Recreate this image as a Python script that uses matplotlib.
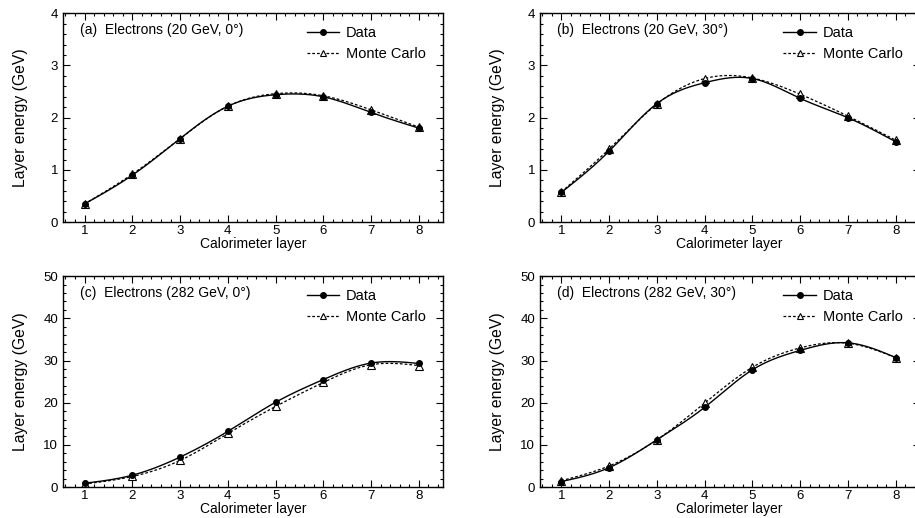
#!/usr/bin/env python3
"""
Layer energy profiles: data vs Monte Carlo for 20 and 282 GeV electrons.
Generates out.png
"""
import matplotlib
matplotlib.use("Agg")
import matplotlib.pyplot as plt
from matplotlib.ticker import MultipleLocator, AutoMinorLocator
import numpy as np

layers = [1, 2, 3, 4, 5, 6, 7, 8]

data_a = [0.35, 0.90, 1.60, 2.22, 2.44, 2.40, 2.10, 1.80]
mc_a = [0.35, 0.92, 1.60, 2.22, 2.46, 2.42, 2.15, 1.82]

data_b = [0.57, 1.36, 2.27, 2.67, 2.75, 2.37, 2.00, 1.54]
mc_b = [0.58, 1.40, 2.26, 2.75, 2.76, 2.45, 2.03, 1.57]

data_c = [0.9, 2.8, 7.1, 13.2, 20.1, 25.5, 29.4, 29.3]
mc_c = [0.7, 2.5, 6.3, 12.7, 19.1, 24.8, 29.0, 28.8]

data_d = [1.3, 4.6, 11.2, 18.9, 27.8, 32.4, 34.2, 30.7]
mc_d = [1.5, 5.0, 11.2, 19.9, 28.4, 33.0, 34.1, 30.7]

titles = [
    "(a)  Electrons (20 GeV, 0°)",
    "(b)  Electrons (20 GeV, 30°)",
    "(c)  Electrons (282 GeV, 0°)",
    "(d)  Electrons (282 GeV, 30°)",
]

plt.rcParams["font.family"] = ["Liberation Sans", "DejaVu Sans"]
plt.rcParams["font.size"] = 10


def smooth(x, y, n=200):
    """Natural cubic spline through the points, only for drawing the curve."""
    x = np.asarray(x, float)
    y = np.asarray(y, float)
    k = len(x)
    h = np.diff(x)
    A = np.zeros((k, k))
    r = np.zeros(k)
    A[0, 0] = A[-1, -1] = 1.0
    for i in range(1, k - 1):
        A[i, i - 1] = h[i - 1]
        A[i, i] = 2 * (h[i - 1] + h[i])
        A[i, i + 1] = h[i]
        r[i] = 6 * ((y[i + 1] - y[i]) / h[i] - (y[i] - y[i - 1]) / h[i - 1])
    m = np.linalg.solve(A, r)
    xs = np.linspace(x[0], x[-1], n)
    idx = np.clip(np.searchsorted(x, xs) - 1, 0, k - 2)
    x0, x1 = x[idx], x[idx + 1]
    hh = x1 - x0
    t0, t1 = x1 - xs, xs - x0
    ys = (m[idx] * t0**3 + m[idx + 1] * t1**3) / (6 * hh) \
        + (y[idx] / hh - m[idx] * hh / 6) * t0 \
        + (y[idx + 1] / hh - m[idx + 1] * hh / 6) * t1
    return xs, ys


MC_DASH = (0, (2.2, 1.6))


def draw_panel(ax, data, mc, title, ymax, ystep):
    xs, ys = smooth(layers, mc)
    ax.plot(xs, ys, color="black", lw=0.9, ls=MC_DASH)
    xs, ys = smooth(layers, data)
    ax.plot(xs, ys, color="black", lw=1.0, ls="-")
    ax.plot(layers, mc, ls="none", marker="^", ms=5.5, mfc="white",
            mec="black", mew=0.8)
    ax.plot(layers, data, ls="none", marker="o", ms=4, color="black")

    # legend proxies
    ax.plot([], [], color="black", lw=1.0, marker="o", ms=4, label="Data")
    ax.plot([], [], color="black", lw=0.9, ls=MC_DASH, marker="^",
            ms=5, mfc="white", mec="black", mew=0.8, label="Monte Carlo")
    handles, labels = ax.get_legend_handles_labels()
    ax.legend(handles, labels, loc="upper left", bbox_to_anchor=(0.607, 1.0),
              frameon=False, handlelength=2.2, handletextpad=0.5,
              labelspacing=0.45, fontsize=10.5)

    ax.text(0.045, 0.92, title, transform=ax.transAxes, ha="left",
            va="center", fontsize=10)

    ax.set_xlim(0.55, 8.5)
    ax.set_ylim(0, ymax)
    ax.xaxis.set_major_locator(MultipleLocator(1))
    ax.xaxis.set_minor_locator(AutoMinorLocator(5))
    ax.yaxis.set_major_locator(MultipleLocator(ystep))
    ax.yaxis.set_minor_locator(AutoMinorLocator(5))
    ax.tick_params(which="both", direction="in", top=True, right=True,
                   labelsize=9.5, width=0.8)
    ax.tick_params(which="major", length=5)
    ax.tick_params(which="minor", length=2.5)
    ax.tick_params(axis="x", pad=2)
    for s in ax.spines.values():
        s.set_linewidth(1.0)
    ax.set_xlabel("Calorimeter layer", fontsize=10, labelpad=0)
    ax.set_ylabel("Layer energy (GeV)", fontsize=11.3)
    ax.yaxis.set_label_coords(-0.092, 0.5)


fig = plt.figure(figsize=(9.15, 5.18), dpi=100)
w, h_top, h_bot = 0.415, 0.4035, 0.407
ax_a = fig.add_axes([0.0689, 0.571, w, h_top])
ax_b = fig.add_axes([0.590, 0.571, w, h_top])
ax_c = fig.add_axes([0.0689, 0.0598, w, h_bot])
ax_d = fig.add_axes([0.590, 0.0598, w, h_bot])

draw_panel(ax_a, data_a, mc_a, titles[0], 4, 1)
draw_panel(ax_b, data_b, mc_b, titles[1], 4, 1)
draw_panel(ax_c, data_c, mc_c, titles[2], 50, 10)
draw_panel(ax_d, data_d, mc_d, titles[3], 50, 10)

fig.savefig("out.png", dpi=100)
plt.close(fig)
